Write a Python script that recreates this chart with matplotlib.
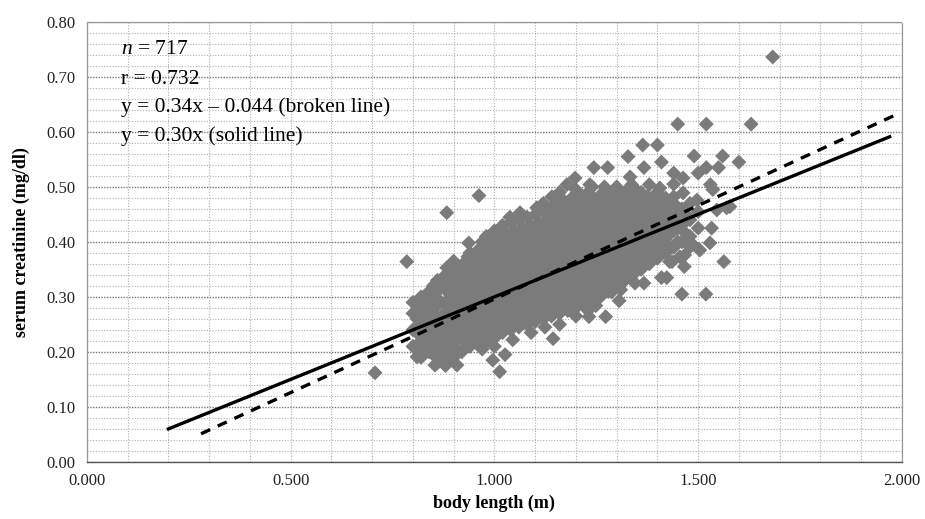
import numpy as np
import matplotlib
matplotlib.use("Agg")
import matplotlib.pyplot as plt
from matplotlib.ticker import MultipleLocator, FormatStrFormatter

# dense core of the cloud, one column of creatinine values per body length
core_x = [0.80, 0.82, 0.84, 0.86, 0.88, 0.90, 0.92, 0.94, 0.96, 0.98,
          1.00, 1.02, 1.04, 1.06, 1.08, 1.10, 1.12, 1.14, 1.16, 1.18,
          1.20, 1.22, 1.24, 1.26, 1.28, 1.30, 1.32, 1.34, 1.36, 1.38,
          1.40, 1.42, 1.44, 1.46, 1.48, 1.50]
core_y = [
    [0.21, 0.24, 0.27, 0.29],
    [0.19, 0.22, 0.25, 0.275, 0.30],
    [0.20, 0.23, 0.255, 0.28, 0.31],
    [0.18, 0.21, 0.235, 0.26, 0.285, 0.31, 0.33],
    [0.175, 0.20, 0.225, 0.25, 0.27, 0.29, 0.315, 0.34],
    [0.19, 0.215, 0.24, 0.26, 0.28, 0.30, 0.32, 0.345, 0.365],
    [0.20, 0.225, 0.245, 0.265, 0.285, 0.305, 0.325, 0.35],
    [0.21, 0.23, 0.25, 0.27, 0.29, 0.31, 0.33, 0.355, 0.38],
    [0.215, 0.235, 0.255, 0.275, 0.295, 0.315, 0.335, 0.36, 0.385],
    [0.22, 0.24, 0.26, 0.28, 0.30, 0.32, 0.34, 0.365, 0.39, 0.41],
    [0.225, 0.245, 0.265, 0.285, 0.305, 0.325, 0.345, 0.37, 0.395, 0.42],
    [0.235, 0.255, 0.275, 0.295, 0.315, 0.335, 0.355, 0.375, 0.40, 0.43],
    [0.24, 0.26, 0.28, 0.30, 0.32, 0.34, 0.36, 0.38, 0.405, 0.435],
    [0.245, 0.265, 0.285, 0.305, 0.325, 0.345, 0.365, 0.385, 0.41, 0.44],
    [0.25, 0.27, 0.29, 0.31, 0.33, 0.35, 0.37, 0.39, 0.415, 0.445],
    [0.255, 0.275, 0.295, 0.315, 0.335, 0.355, 0.375, 0.395, 0.42, 0.45],
    [0.26, 0.28, 0.30, 0.32, 0.34, 0.36, 0.38, 0.40, 0.425, 0.455, 0.47],
    [0.265, 0.285, 0.305, 0.325, 0.345, 0.365, 0.385, 0.405, 0.43, 0.46],
    [0.27, 0.29, 0.31, 0.33, 0.35, 0.37, 0.39, 0.41, 0.435, 0.46, 0.49],
    [0.275, 0.295, 0.315, 0.335, 0.355, 0.375, 0.395, 0.415, 0.44, 0.465],
    [0.28, 0.30, 0.32, 0.34, 0.36, 0.38, 0.40, 0.42, 0.445, 0.47, 0.495],
    [0.285, 0.305, 0.325, 0.345, 0.365, 0.385, 0.405, 0.425, 0.45, 0.475],
    [0.29, 0.31, 0.33, 0.35, 0.37, 0.39, 0.41, 0.43, 0.455, 0.48, 0.50],
    [0.30, 0.32, 0.34, 0.36, 0.38, 0.40, 0.42, 0.44, 0.46, 0.485],
    [0.31, 0.33, 0.35, 0.37, 0.39, 0.41, 0.43, 0.45, 0.47, 0.49],
    [0.32, 0.34, 0.36, 0.38, 0.40, 0.42, 0.44, 0.46, 0.48, 0.50],
    [0.33, 0.35, 0.37, 0.39, 0.41, 0.43, 0.45, 0.47, 0.49],
    [0.34, 0.36, 0.38, 0.40, 0.42, 0.44, 0.46, 0.48, 0.50],
    [0.35, 0.37, 0.39, 0.41, 0.43, 0.45, 0.47, 0.49],
    [0.36, 0.38, 0.40, 0.42, 0.44, 0.46, 0.48],
    [0.37, 0.39, 0.415, 0.44, 0.465, 0.49],
    [0.38, 0.405, 0.43, 0.455, 0.48],
    [0.39, 0.42, 0.445, 0.47],
    [0.40, 0.43, 0.46],
    [0.41, 0.44, 0.47],
    [0.425, 0.455],
]

# second pass over the core, between the columns above
mid_x = [0.81, 0.83, 0.85, 0.87, 0.89, 0.91, 0.93, 0.95, 0.97, 0.99,
         1.01, 1.03, 1.05, 1.07, 1.09, 1.11, 1.13, 1.15, 1.17, 1.19,
         1.21, 1.23, 1.25, 1.27, 1.29, 1.31, 1.33, 1.35, 1.37, 1.39,
         1.41, 1.43, 1.45, 1.47]
mid_y = [
    [0.205, 0.235, 0.26, 0.285],
    [0.21, 0.24, 0.265, 0.29],
    [0.195, 0.22, 0.245, 0.27, 0.295, 0.32],
    [0.19, 0.215, 0.24, 0.265, 0.29, 0.32],
    [0.185, 0.21, 0.235, 0.26, 0.28, 0.305, 0.33],
    [0.20, 0.23, 0.25, 0.27, 0.29, 0.31, 0.335, 0.355],
    [0.21, 0.235, 0.255, 0.275, 0.295, 0.315, 0.34, 0.365],
    [0.22, 0.24, 0.26, 0.28, 0.30, 0.32, 0.345, 0.37],
    [0.225, 0.245, 0.265, 0.285, 0.305, 0.325, 0.35, 0.375, 0.40],
    [0.23, 0.25, 0.27, 0.29, 0.31, 0.33, 0.355, 0.38, 0.405],
    [0.235, 0.255, 0.275, 0.295, 0.315, 0.335, 0.36, 0.385, 0.41],
    [0.245, 0.265, 0.285, 0.305, 0.325, 0.345, 0.365, 0.39, 0.415],
    [0.25, 0.27, 0.29, 0.31, 0.33, 0.35, 0.37, 0.395, 0.42],
    [0.255, 0.275, 0.295, 0.315, 0.335, 0.355, 0.375, 0.40, 0.425],
    [0.26, 0.28, 0.30, 0.32, 0.34, 0.36, 0.38, 0.405, 0.43],
    [0.265, 0.285, 0.305, 0.325, 0.345, 0.365, 0.385, 0.41, 0.435],
    [0.27, 0.29, 0.31, 0.33, 0.35, 0.37, 0.39, 0.415, 0.44],
    [0.275, 0.295, 0.315, 0.335, 0.355, 0.375, 0.395, 0.42, 0.445, 0.47],
    [0.28, 0.30, 0.32, 0.34, 0.36, 0.38, 0.40, 0.425, 0.45, 0.475],
    [0.285, 0.305, 0.325, 0.345, 0.365, 0.385, 0.405, 0.43, 0.455, 0.48],
    [0.29, 0.31, 0.33, 0.35, 0.37, 0.39, 0.41, 0.435, 0.46, 0.485],
    [0.295, 0.315, 0.335, 0.355, 0.375, 0.395, 0.415, 0.44, 0.465, 0.49],
    [0.305, 0.325, 0.345, 0.365, 0.385, 0.405, 0.425, 0.45, 0.475],
    [0.315, 0.335, 0.355, 0.375, 0.395, 0.415, 0.435, 0.455, 0.48, 0.50],
    [0.32, 0.34, 0.36, 0.38, 0.40, 0.42, 0.44, 0.46, 0.48],
    [0.33, 0.35, 0.37, 0.39, 0.41, 0.43, 0.45, 0.47, 0.49],
    [0.34, 0.36, 0.38, 0.40, 0.42, 0.44, 0.46, 0.48],
    [0.35, 0.37, 0.39, 0.41, 0.43, 0.45, 0.47, 0.49],
    [0.36, 0.38, 0.40, 0.42, 0.44, 0.46, 0.48],
    [0.37, 0.39, 0.41, 0.43, 0.45, 0.47],
    [0.38, 0.40, 0.425, 0.45, 0.475],
    [0.39, 0.415, 0.44, 0.465],
    [0.40, 0.425, 0.45],
    [0.415, 0.45],
]

# scattered points round the edge of the cloud
edge_x = [1.683, 1.45, 1.52, 1.63, 1.49, 1.56, 1.60, 1.364, 1.40, 1.328,
          1.244, 1.278, 1.367, 1.41, 1.44, 1.463, 1.50, 1.52, 1.55, 1.198,
          1.178, 1.234, 1.333, 1.337, 1.38, 1.406, 1.53, 1.141, 1.21, 1.259,
          1.29, 1.325, 1.35, 1.375, 1.44, 1.463, 1.497, 1.536, 1.578, 1.063,
          1.038, 1.104, 1.13, 0.962, 0.883, 0.785, 0.883, 0.937, 0.935, 0.707,
          0.81, 0.915, 0.859, 0.834, 0.822, 0.854, 0.908, 1.013, 0.996, 1.026,
          1.045, 1.144, 1.232, 1.273, 1.249, 1.306, 1.288, 1.345, 1.46, 1.519,
          1.436, 1.423, 1.467, 1.487, 1.124, 1.563, 1.533, 1.529, 1.504, 1.48,
          1.43, 1.455, 1.466, 1.41, 1.367, 1.31, 1.57, 1.546, 1.44, 0.812,
          0.81, 1.16, 1.09, 1.20, 1.23, 0.97, 1.00]
edge_y = [0.736, 0.614, 0.614, 0.614, 0.556, 0.556, 0.545, 0.576, 0.576, 0.555,
          0.535, 0.535, 0.535, 0.545, 0.525, 0.516, 0.525, 0.535, 0.535, 0.516,
          0.504, 0.504, 0.518, 0.504, 0.504, 0.498, 0.504, 0.482, 0.482, 0.473,
          0.473, 0.482, 0.482, 0.482, 0.482, 0.489, 0.476, 0.495, 0.464, 0.453,
          0.445, 0.462, 0.453, 0.484, 0.453, 0.364, 0.353, 0.398, 0.373, 0.162,
          0.275, 0.344, 0.295, 0.255, 0.216, 0.176, 0.176, 0.164, 0.185, 0.195,
          0.222, 0.224, 0.264, 0.264, 0.284, 0.293, 0.309, 0.325, 0.305, 0.305,
          0.364, 0.335, 0.376, 0.395, 0.245, 0.364, 0.425, 0.398, 0.385, 0.391,
          0.364, 0.373, 0.355, 0.335, 0.325, 0.313, 0.462, 0.458, 0.505, 0.273,
          0.191, 0.25, 0.235, 0.265, 0.275, 0.205, 0.21]

# regression lines read from the annotation
broken_x = [0.28, 1.98]
solid_x = [0.20, 1.97]
broken_slope, broken_icpt = 0.34, -0.044
solid_slope = 0.30

labels = ["r = 0.732", "y = 0.34x \u2013 0.044 (broken line)", "y = 0.30x (solid line)"]

body_length = []
creatinine = []
for xs, yss in [(core_x, core_y), (mid_x, mid_y)]:
    for x, ys in zip(xs, yss):
        for y in ys:
            body_length.append(x)
            creatinine.append(y)
body_length += edge_x
creatinine += edge_y

plt.rcParams['font.family'] = ['Liberation Serif', 'DejaVu Serif']
plt.rcParams['mathtext.fontset'] = 'custom'
plt.rcParams['mathtext.it'] = 'Liberation Serif:italic'
plt.rcParams['mathtext.rm'] = 'Liberation Serif'

fig = plt.figure(figsize=(9.25, 5.19), dpi=100)
ax = fig.add_axes([0.094, 0.110, 0.881, 0.848])

ax.scatter(body_length, creatinine, marker='D', s=58, color='#7b7b7b',
           edgecolors='none', zorder=3)

bx = np.array(broken_x)
sx = np.array(solid_x)
ax.plot(bx, broken_slope * bx + broken_icpt, color='black', lw=2.4,
        dashes=(3, 2.5), zorder=4)
ax.plot(sx, solid_slope * sx, color='black', lw=2.4, zorder=4)

ax.set_xlim(0, 2.0)
ax.set_ylim(0, 0.8)
ax.xaxis.set_major_locator(MultipleLocator(0.5))
ax.xaxis.set_minor_locator(MultipleLocator(0.1))
ax.yaxis.set_major_locator(MultipleLocator(0.1))
ax.yaxis.set_minor_locator(MultipleLocator(0.02))
ax.xaxis.set_major_formatter(FormatStrFormatter('%.3f'))
ax.yaxis.set_major_formatter(FormatStrFormatter('%.2f'))

ax.grid(which='major', axis='y', color='#777777', lw=1.0, ls=(0, (1, 1)))
ax.grid(which='minor', axis='y', color='#b0b0b0', lw=0.8, ls=(0, (1, 1.5)))
ax.grid(which='both', axis='x', color='#b0b0b0', lw=0.8, ls=(0, (1, 1.5)))
ax.set_axisbelow(True)

for side in ['top', 'right', 'left']:
    ax.spines[side].set_color('#999999')
    ax.spines[side].set_linestyle((0, (1, 1)))
    ax.spines[side].set_linewidth(0.9)
ax.spines['bottom'].set_color('#555555')
ax.spines['bottom'].set_linewidth(1.0)

ax.tick_params(which='both', length=0, labelsize=12, colors='#222222')
ax.tick_params(axis='x', pad=8)
ax.tick_params(axis='y', pad=8)

ax.set_xlabel('body length (m)', fontsize=13, fontweight='bold', labelpad=4)
ax.set_ylabel('serum creatinine (mg/dl)', fontsize=13, fontweight='bold', labelpad=12)

ax.text(0.083, 0.749, r'$n$ = 717', fontsize=15.5, va='center', ha='left')
for i, s in enumerate(labels):
    ax.text(0.083, 0.696 - 0.0515 * i, s, fontsize=15.5, va='center', ha='left')

fig.savefig('out.png', dpi=100)
